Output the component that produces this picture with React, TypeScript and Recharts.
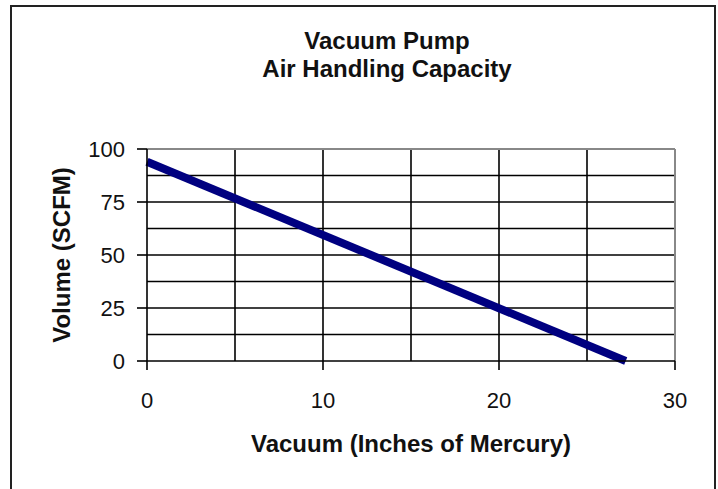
import { LineChart, Line, XAxis, YAxis, CartesianGrid, ReferenceLine, Label } from 'recharts'

// straight line from ~94 SCFM at 0 inHg to 0 SCFM at ~27 inHg
const vacuum = [0, 27.2]
const volume = [94, 0]

const xTicks = [0, 10, 20, 30]
const yTicks = [0, 25, 50, 75, 100]
const xGrid = [5, 10, 15, 20, 25]
const yGrid = [12.5, 25, 37.5, 50, 62.5, 75, 87.5]

const data = vacuum.map((v, i) => ({ vacuum: v, volume: volume[i] }))

const font = '"Liberation Sans", Arial, sans-serif'

export default function App() {
  return (
    <div style={{ position: 'absolute', left: 0, top: 0, width: 718, height: 489, background: '#fff', overflow: 'hidden', fontFamily: font }}>
      <div style={{ position: 'absolute', left: 10, top: 5, width: 702, height: 520, border: '2px solid #222' }} />
      <div style={{ position: 'absolute', left: 187, width: 400, top: 27, textAlign: 'center', fontWeight: 'bold', fontSize: 24, lineHeight: '28px', color: '#111' }}>
        <div>Vacuum Pump</div>
        <div>Air Handling Capacity</div>
      </div>
      <div style={{ position: 'absolute', left: 0, top: 0 }}>
        <LineChart width={718} height={489} data={data} margin={{ top: 149, right: 43, bottom: 28, left: 0 }}>
          <CartesianGrid horizontalValues={yGrid} verticalValues={xGrid} stroke='#000' strokeWidth={1.6} />
          <ReferenceLine y={100} stroke='#888' strokeWidth={2} />
          <ReferenceLine x={30} stroke='#888' strokeWidth={2} />
          <XAxis
            dataKey='vacuum'
            type='number'
            domain={[0, 30]}
            ticks={xTicks}
            height={100}
            tickSize={9}
            tickMargin={22}
            axisLine={{ stroke: '#000', strokeWidth: 1.6 }}
            tickLine={{ stroke: '#000', strokeWidth: 1.6 }}
            tick={{ fill: '#111', fontSize: 22, fontFamily: font }}
          >
            <Label value='Vacuum (Inches of Mercury)' position='insideBottom' offset={9} style={{ fontWeight: 'bold', fontSize: 24, fill: '#111', fontFamily: font }} />
          </XAxis>
          <YAxis
            type='number'
            domain={[0, 100]}
            ticks={yTicks}
            width={147}
            tickSize={10}
            tickMargin={12}
            axisLine={{ stroke: '#000', strokeWidth: 1.6 }}
            tickLine={{ stroke: '#000', strokeWidth: 1.6 }}
            tick={{ fill: '#111', fontSize: 22, fontFamily: font }}
          >
            <Label value='Volume (SCFM)' angle={-90} position='insideLeft' offset={61} style={{ textAnchor: 'middle', fontWeight: 'bold', fontSize: 24, fill: '#111', fontFamily: font }} />
          </YAxis>
          <Line type='linear' dataKey='volume' stroke='#000080' strokeWidth={8} dot={false} isAnimationActive={false} />
        </LineChart>
      </div>
    </div>
  )
}
